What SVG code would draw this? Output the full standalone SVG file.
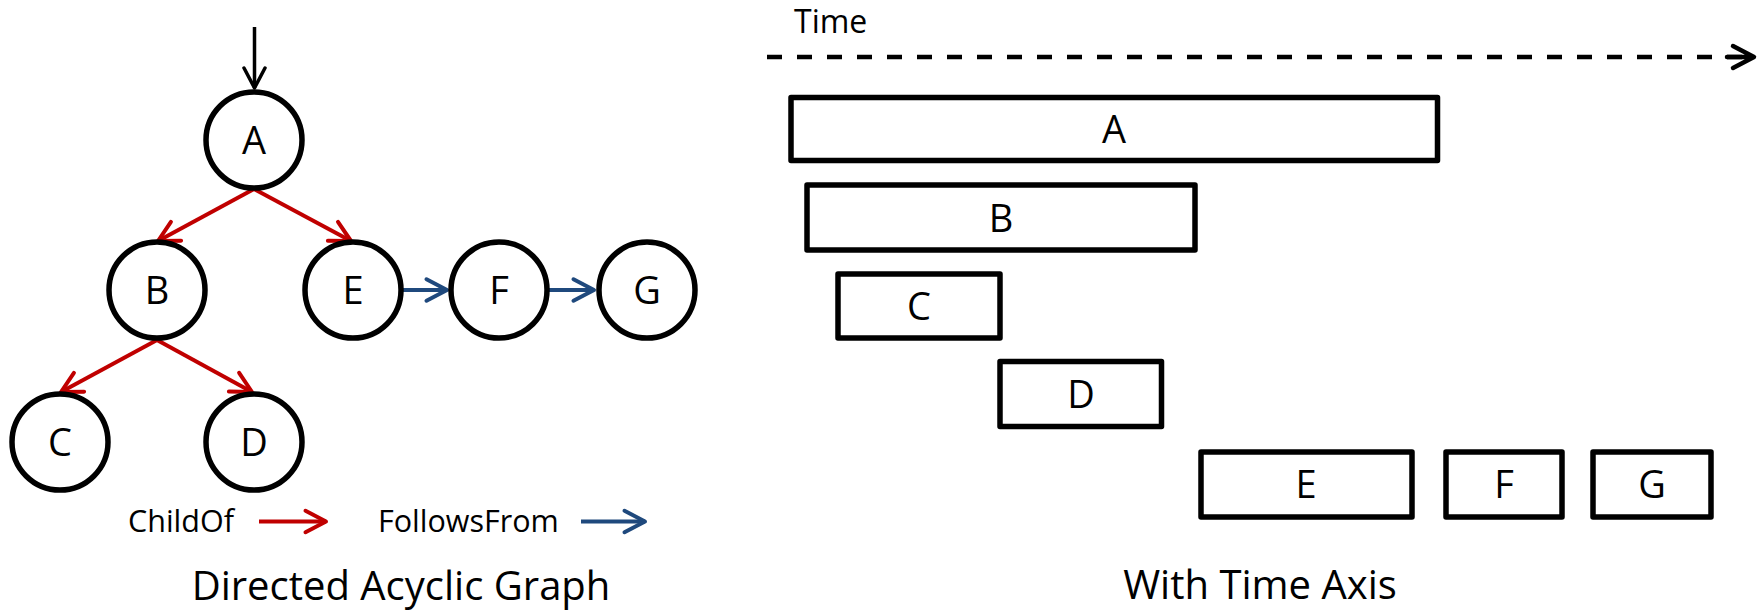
<svg xmlns="http://www.w3.org/2000/svg" width="1760" height="612" viewBox="0 0 1760 612">
<style>
text{font-family:"Open Sans","Noto Sans","DejaVu Sans",sans-serif;fill:#000}
.nl{font-size:38px;text-anchor:middle}
.node circle{fill:#fff;stroke:#000;stroke-width:5.5}
.span rect{fill:#fff;stroke:#000;stroke-width:5.5;stroke-linejoin:round}
.red{stroke:#C00000;stroke-width:4;fill:none}
.blue{stroke:#1F497D;stroke-width:4;fill:none}
.title{font-size:40px;text-anchor:middle}
.leg{font-size:30.5px}
</style>
<defs>
<marker id="mR" markerUnits="userSpaceOnUse" viewBox="-26 -16 30 32" refX="0" refY="0" markerWidth="30" markerHeight="32" orient="auto" overflow="visible">
<path d="M-20.5,-10.7 L0,0 L-20.5,10.7" fill="none" stroke="#C00000" stroke-width="4" stroke-linecap="round" stroke-linejoin="round"/>
</marker>
<marker id="mB" markerUnits="userSpaceOnUse" viewBox="-26 -16 30 32" refX="0" refY="0" markerWidth="30" markerHeight="32" orient="auto" overflow="visible">
<path d="M-20.5,-10.7 L0,0 L-20.5,10.7" fill="none" stroke="#1F497D" stroke-width="4" stroke-linecap="round" stroke-linejoin="round"/>
</marker>
<marker id="mK" markerUnits="userSpaceOnUse" viewBox="-26 -16 30 32" refX="0" refY="0" markerWidth="30" markerHeight="32" orient="auto" overflow="visible">
<path d="M-20,-10.5 L0,0 L-20,10.5" fill="none" stroke="#000" stroke-width="3.5" stroke-linecap="round" stroke-linejoin="round"/>
</marker>
</defs>
<rect width="1760" height="612" fill="#fff"/>

<g id="connectors">
<line x1="254.5" y1="27" x2="254.5" y2="88" stroke="#000" stroke-width="3.5" marker-end="url(#mK)"/>
<line class="red" x1="254" y1="189" x2="158" y2="241" marker-end="url(#mR)"/>
<line class="red" x1="254" y1="189" x2="351" y2="241" marker-end="url(#mR)"/>
<line class="red" x1="157" y1="340" x2="61" y2="392" marker-end="url(#mR)"/>
<line class="red" x1="157" y1="340" x2="252" y2="392" marker-end="url(#mR)"/>
<line class="blue" x1="401" y1="290" x2="447" y2="290" marker-end="url(#mB)"/>
<line class="blue" x1="547" y1="290" x2="594" y2="290" marker-end="url(#mB)"/>
</g>

<g id="node-A" class="node"><circle cx="254" cy="140" r="48"/><text class="nl" x="254" y="154">A</text></g>
<g id="node-B" class="node"><circle cx="157" cy="290" r="48"/><text class="nl" x="157" y="304">B</text></g>
<g id="node-E" class="node"><circle cx="353" cy="290" r="48"/><text class="nl" x="353" y="304">E</text></g>
<g id="node-F" class="node"><circle cx="499" cy="290" r="48"/><text class="nl" x="499" y="304">F</text></g>
<g id="node-G" class="node"><circle cx="647" cy="290" r="48"/><text class="nl" x="647" y="304">G</text></g>
<g id="node-C" class="node"><circle cx="60" cy="442" r="48"/><text class="nl" x="60" y="456">C</text></g>
<g id="node-D" class="node"><circle cx="254" cy="442" r="48"/><text class="nl" x="254" y="456">D</text></g>

<g id="legend">
<text class="leg" x="128" y="532">ChildOf</text>
<line class="red" x1="259" y1="521.5" x2="326" y2="521.5" marker-end="url(#mR)"/>
<text class="leg" x="378" y="532">FollowsFrom</text>
<line class="blue" x1="581" y1="521.5" x2="645" y2="521.5" marker-end="url(#mB)"/>
</g>
<text class="title" x="401" y="600">Directed Acyclic Graph</text>

<g id="time-axis">
<text x="794" y="33" font-size="32">Time</text>
<line x1="767" y1="57" x2="1752" y2="57" stroke="#000" stroke-width="4.5" stroke-dasharray="15 15"/>
<path d="M1727,57 L1752,57 M1733,46 L1754,57 L1733,68" fill="none" stroke="#000" stroke-width="4.5" stroke-linecap="round" stroke-linejoin="round"/>
</g>

<g id="span-A" class="span"><rect x="791" y="97.5" width="646.5" height="63"/><text class="nl" x="1114" y="143">A</text></g>
<g id="span-B" class="span"><rect x="807" y="185" width="388" height="65"/><text class="nl" x="1001" y="232">B</text></g>
<g id="span-C" class="span"><rect x="838" y="274" width="162" height="64"/><text class="nl" x="919" y="320">C</text></g>
<g id="span-D" class="span"><rect x="1000" y="361.5" width="161.5" height="65"/><text class="nl" x="1081" y="408">D</text></g>
<g id="span-E" class="span"><rect x="1201" y="452" width="211" height="65"/><text class="nl" x="1306" y="498">E</text></g>
<g id="span-F" class="span"><rect x="1446" y="452" width="116" height="65"/><text class="nl" x="1504" y="498">F</text></g>
<g id="span-G" class="span"><rect x="1593" y="452" width="118" height="65"/><text class="nl" x="1652" y="498">G</text></g>

<text class="title" x="1260" y="599">With Time Axis</text>
</svg>
